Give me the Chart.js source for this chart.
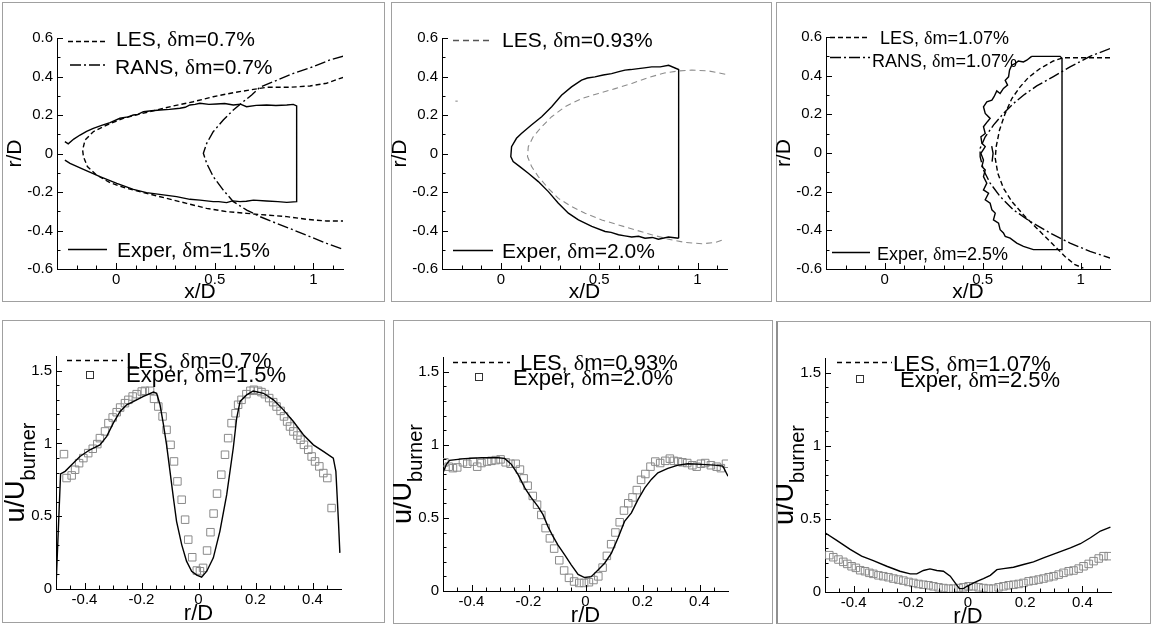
<!DOCTYPE html>
<html><head><meta charset="utf-8">
<script src="https://cdn.jsdelivr.net/npm/chart.js@4.4.1/dist/chart.umd.min.js"></script>
<style>
html,body{margin:0;padding:0;background:#fff;width:1153px;height:628px;overflow:hidden;position:relative}
.frame{position:absolute;box-sizing:border-box;border:1px solid #a0a0a0;}
canvas{position:absolute;}
</style></head><body>
<script>
// ---------- tick values / labels ----------
const topXMajor = [0, 0.5, 1];
const topXLabels = ['0', '0.5', '1'];
const topXMinor = [-0.2, -0.1, 0.1, 0.2, 0.3, 0.4, 0.6, 0.7, 0.8, 0.9, 1.1];
const topYMajor = [-0.6, -0.4, -0.2, 0, 0.2, 0.4, 0.6];
const topYLabels = ['-0.6', '-0.4', '-0.2', '0', '0.2', '0.4', '0.6'];
const topYMinor = [-0.5, -0.3, -0.1, 0.1, 0.3, 0.5];
const botXMajor = [-0.4, -0.2, 0, 0.2, 0.4];
const botXLabels = ['-0.4', '-0.2', '0', '0.2', '0.4'];
const botXMinor = [-0.45, -0.35, -0.3, -0.25, -0.15, -0.1, -0.05, 0.05, 0.1, 0.15, 0.25, 0.3, 0.35, 0.45];
const botYMajor = [0, 0.5, 1, 1.5];
const botYLabels = ['0', '0.5', '1', '1.5'];
const botYMinor = [0.1, 0.2, 0.3, 0.4, 0.6, 0.7, 0.8, 0.9, 1.1, 1.2, 1.3, 1.4];

// ---------- legend labels ----------
const p1Labels = ['LES, δm=0.7%', 'RANS, δm=0.7%', 'Exper, δm=1.5%'];
const p2Labels = ['LES, δm=0.93%', 'Exper, δm=2.0%'];
const p3Labels = ['LES, δm=1.07%', 'RANS, δm=1.07%', 'Exper, δm=2.5%'];
const p4Labels = ['LES, δm=0.7%', 'Exper, δm=1.5%'];
const p5Labels = ['LES, δm=0.93%', 'Exper, δm=2.0%'];
const p6Labels = ['LES, δm=1.07%', 'Exper, δm=2.5%'];

// ---------- panel 1 (x/D, r/D) ----------
const p1ExpX = [-0.26,-0.243,-0.215,-0.183,-0.15,-0.116,-0.07,-0.031,0.019,0.06,0.087,0.11,0.138,0.18,0.222,0.27,0.323,0.35,0.374,0.4,0.425,0.47,0.509,0.55,0.594,0.63,0.661,0.71,0.763,0.81,0.865,0.898,0.915,0.915,0.865,0.82,0.763,0.696,0.66,0.628,0.59,0.56,0.52,0.492,0.425,0.374,0.306,0.239,0.154,0.087,0.003,-0.082,-0.166,-0.234,-0.26];
const p1ExpY = [0.062,0.05,0.075,0.096,0.115,0.131,0.147,0.16,0.183,0.19,0.2,0.203,0.217,0.222,0.226,0.229,0.235,0.24,0.252,0.255,0.261,0.255,0.257,0.26,0.252,0.256,0.243,0.25,0.252,0.249,0.252,0.255,0.247,-0.25,-0.254,-0.25,-0.247,-0.242,-0.248,-0.25,-0.246,-0.255,-0.25,-0.25,-0.242,-0.238,-0.224,-0.215,-0.203,-0.186,-0.155,-0.12,-0.082,-0.051,-0.034];
const p1LesX = [1.152,1.067,0.983,0.881,0.763,0.696,0.594,0.492,0.391,0.289,0.205,0.121,0.036,-0.048,-0.116,-0.158,-0.17,-0.166,-0.146,-0.099,-0.031,0.053,0.154,0.256,0.357,0.458,0.56,0.662,0.763,0.865,0.966,1.067,1.152];
const p1LesY = [0.396,0.365,0.351,0.344,0.344,0.333,0.316,0.295,0.269,0.247,0.226,0.205,0.183,0.148,0.113,0.07,0.018,-0.016,-0.068,-0.112,-0.152,-0.181,-0.207,-0.233,-0.259,-0.285,-0.302,-0.311,-0.32,-0.328,-0.342,-0.351,-0.351];
const p1RansX = [1.152,1.084,0.999,0.898,0.797,0.729,0.687,0.644,0.594,0.543,0.492,0.459,0.442,0.459,0.492,0.543,0.594,0.662,0.729,0.813,0.898,0.983,1.067,1.152];
const p1RansY = [0.506,0.486,0.451,0.416,0.373,0.344,0.304,0.269,0.226,0.174,0.113,0.053,0.001,-0.051,-0.12,-0.19,-0.25,-0.294,-0.328,-0.363,-0.397,-0.432,-0.467,-0.498];

// ---------- panel 2 ----------
const p2ExpX = [0.904,0.904,0.853,0.81,0.767,0.73,0.699,0.66,0.631,0.6,0.563,0.52,0.478,0.44,0.41,0.359,0.308,0.258,0.207,0.155,0.104,0.079,0.054,0.05,0.062,0.096,0.139,0.19,0.241,0.292,0.343,0.394,0.462,0.53,0.56,0.598,0.63,0.665,0.7,0.733,0.77,0.801,0.852,0.904];
const p2ExpY = [-0.44,0.436,0.458,0.45,0.45,0.445,0.441,0.436,0.433,0.425,0.415,0.408,0.398,0.392,0.381,0.346,0.303,0.243,0.191,0.148,0.104,0.079,0.035,-0.016,-0.042,-0.068,-0.103,-0.146,-0.198,-0.258,-0.31,-0.345,-0.379,-0.405,-0.41,-0.422,-0.428,-0.434,-0.43,-0.44,-0.436,-0.445,-0.434,-0.44];
const p2LesX = [1.141,1.056,0.971,0.904,0.836,0.751,0.666,0.581,0.496,0.411,0.326,0.258,0.207,0.164,0.139,0.135,0.156,0.19,0.241,0.292,0.36,0.428,0.513,0.598,0.683,0.767,0.852,0.937,1.022,1.09,1.141];
const p2LesY = [0.412,0.429,0.433,0.429,0.419,0.395,0.364,0.337,0.312,0.286,0.243,0.191,0.139,0.087,0.035,-0.016,-0.068,-0.12,-0.181,-0.233,-0.276,-0.31,-0.345,-0.371,-0.397,-0.422,-0.445,-0.462,-0.469,-0.462,-0.445];
const p2MarkX = [-0.232, -0.22];
const p2MarkY = [0.272, 0.272];

// ---------- panel 3 ----------
const p3ExpX = [0.75,0.725,0.708,0.682,0.665,0.648,0.637,0.632,0.615,0.627,0.606,0.589,0.572,0.558,0.547,0.521,0.504,0.513,0.538,0.524,0.504,0.513,0.491,0.496,0.513,0.491,0.504,0.496,0.513,0.504,0.521,0.504,0.53,0.513,0.538,0.547,0.564,0.555,0.581,0.589,0.606,0.615,0.64,0.674,0.708,0.759,0.905,0.905,0.895,0.75];
const p3ExpY = [0.5,0.48,0.471,0.476,0.462,0.454,0.428,0.394,0.376,0.351,0.334,0.308,0.321,0.291,0.273,0.265,0.239,0.205,0.179,0.162,0.136,0.101,0.084,0.05,0.033,-0.002,-0.036,-0.07,-0.088,-0.122,-0.156,-0.191,-0.208,-0.242,-0.26,-0.294,-0.311,-0.346,-0.363,-0.397,-0.414,-0.431,-0.44,-0.466,-0.483,-0.5,-0.5,0.49,0.5,0.5];
const p3InnerX = [0.546, 0.553, 0.548];
const p3InnerY = [0.035, -0.002, -0.045];
const p3LesX = [1.15,1.048,0.912,0.861,0.793,0.733,0.691,0.649,0.615,0.586,0.569,0.564,0.577,0.606,0.649,0.708,0.776,0.852,0.92,0.971,1.014];
const p3LesY = [0.493,0.493,0.493,0.476,0.437,0.39,0.342,0.282,0.205,0.119,0.033,-0.027,-0.105,-0.182,-0.251,-0.32,-0.389,-0.466,-0.535,-0.578,-0.595];
const p3RansX = [1.15,1.048,0.946,0.861,0.776,0.708,0.657,0.606,0.555,0.513,0.487,0.487,0.504,0.538,0.589,0.657,0.742,0.844,0.946,1.048,1.15];
const p3RansY = [0.54,0.5,0.445,0.395,0.347,0.299,0.256,0.205,0.144,0.084,0.024,-0.019,-0.088,-0.156,-0.225,-0.294,-0.354,-0.414,-0.466,-0.509,-0.543];

// ---------- panel 4 (r/D, u/U) ----------
const p4LesR = [-0.5,-0.484,-0.468,-0.445,-0.416,-0.381,-0.346,-0.322,-0.299,-0.275,-0.252,-0.229,-0.193,-0.158,-0.147,-0.135,-0.123,-0.112,-0.1,-0.088,-0.077,-0.059,-0.042,-0.024,-0.006,0.011,0.029,0.052,0.075,0.099,0.122,0.134,0.146,0.169,0.192,0.228,0.263,0.298,0.333,0.368,0.403,0.438,0.473,0.482,0.491,0.496];
const p4LesU = [0.01,0.79,0.808,0.853,0.91,0.956,0.99,1.048,1.139,1.219,1.265,1.287,1.322,1.352,1.344,1.265,1.128,0.99,0.808,0.625,0.465,0.305,0.191,0.122,0.095,0.081,0.122,0.214,0.396,0.648,0.968,1.174,1.288,1.333,1.36,1.344,1.299,1.23,1.15,1.059,0.99,0.945,0.899,0.808,0.465,0.248];
const p4ExpR = [-0.472,-0.463,-0.445,-0.433,-0.419,-0.404,-0.387,-0.371,-0.355,-0.346,-0.328,-0.316,-0.301,-0.287,-0.275,-0.258,-0.246,-0.231,-0.217,-0.199,-0.188,-0.17,-0.156,-0.141,-0.126,-0.112,-0.098,-0.086,-0.074,-0.059,-0.047,-0.036,-0.022,-0.006,0.005,0.016,0.03,0.042,0.053,0.065,0.08,0.093,0.104,0.116,0.13,0.139,0.151,0.168,0.182,0.194,0.209,0.221,0.233,0.248,0.262,0.274,0.288,0.3,0.311,0.321,0.333,0.347,0.358,0.37,0.385,0.397,0.409,0.424,0.438,0.452,0.467];
const p4ExpU = [0.926,0.762,0.78,0.819,0.864,0.899,0.933,0.963,0.995,1.036,1.082,1.139,1.178,1.214,1.246,1.276,1.299,1.322,1.338,1.356,1.361,1.361,1.306,1.253,1.185,1.093,0.99,0.876,0.739,0.613,0.476,0.339,0.218,0.127,0.122,0.145,0.264,0.39,0.518,0.655,0.785,0.922,1.036,1.139,1.207,1.265,1.299,1.338,1.361,1.368,1.361,1.352,1.338,1.311,1.283,1.253,1.223,1.185,1.15,1.116,1.082,1.054,1.025,0.99,0.956,0.91,0.876,0.842,0.796,0.762,0.556];

// ---------- panel 5 ----------
const p5LesR = [-0.5,-0.488,-0.477,-0.424,-0.365,-0.307,-0.284,-0.26,-0.237,-0.213,-0.19,-0.167,-0.149,-0.132,-0.114,-0.097,-0.073,-0.05,-0.026,-0.003,0.02,0.044,0.067,0.091,0.114,0.137,0.161,0.184,0.208,0.231,0.254,0.289,0.325,0.36,0.406,0.453,0.482,0.5];
const p5LesU = [0.808,0.866,0.893,0.905,0.911,0.911,0.907,0.866,0.797,0.705,0.637,0.579,0.522,0.442,0.373,0.316,0.247,0.179,0.114,0.092,0.098,0.144,0.19,0.259,0.362,0.476,0.534,0.625,0.705,0.763,0.808,0.838,0.861,0.87,0.866,0.861,0.854,0.785];
const p5ExpR = [-0.495,-0.48,-0.465,-0.45,-0.43,-0.415,-0.395,-0.38,-0.365,-0.345,-0.33,-0.315,-0.298,-0.28,-0.263,-0.245,-0.23,-0.217,-0.203,-0.185,-0.17,-0.155,-0.14,-0.125,-0.11,-0.092,-0.075,-0.058,-0.04,-0.022,-0.005,0.012,0.028,0.045,0.06,0.075,0.09,0.105,0.12,0.135,0.15,0.165,0.18,0.195,0.21,0.228,0.245,0.262,0.28,0.296,0.31,0.325,0.34,0.357,0.375,0.39,0.405,0.42,0.44,0.46,0.475,0.493];
const p5ExpU = [0.88,0.85,0.84,0.845,0.88,0.87,0.885,0.85,0.875,0.885,0.89,0.895,0.9,0.88,0.87,0.87,0.83,0.77,0.72,0.65,0.59,0.52,0.43,0.36,0.29,0.21,0.14,0.09,0.065,0.055,0.055,0.06,0.075,0.1,0.16,0.24,0.32,0.4,0.47,0.55,0.6,0.64,0.69,0.76,0.8,0.85,0.885,0.875,0.89,0.905,0.89,0.885,0.88,0.875,0.86,0.85,0.87,0.875,0.86,0.85,0.84,0.87];

// ---------- panel 6 ----------
const p6LesR = [-0.5,-0.459,-0.412,-0.372,-0.331,-0.284,-0.238,-0.202,-0.179,-0.156,-0.133,-0.109,-0.086,-0.062,-0.045,-0.03,-0.016,-0.004,0.013,0.031,0.054,0.078,0.101,0.124,0.159,0.194,0.229,0.264,0.311,0.358,0.393,0.428,0.463,0.498];
const p6LesU = [0.405,0.353,0.291,0.245,0.215,0.176,0.142,0.124,0.124,0.147,0.158,0.147,0.142,0.108,0.062,0.023,0.023,0.039,0.055,0.073,0.092,0.114,0.153,0.16,0.169,0.188,0.206,0.234,0.268,0.302,0.33,0.371,0.417,0.444];
const p6ExpR = [-0.485,-0.471,-0.453,-0.436,-0.422,-0.407,-0.392,-0.377,-0.36,-0.345,-0.331,-0.313,-0.296,-0.278,-0.261,-0.243,-0.226,-0.208,-0.191,-0.173,-0.156,-0.138,-0.121,-0.103,-0.086,-0.068,-0.051,-0.033,-0.016,0.002,0.019,0.037,0.054,0.072,0.089,0.107,0.124,0.142,0.159,0.177,0.194,0.212,0.229,0.247,0.264,0.282,0.299,0.317,0.334,0.352,0.369,0.387,0.404,0.422,0.439,0.457,0.474,0.492];
const p6ExpU = [0.252,0.238,0.222,0.206,0.192,0.176,0.165,0.149,0.142,0.131,0.124,0.114,0.108,0.101,0.092,0.085,0.078,0.069,0.062,0.055,0.05,0.046,0.039,0.032,0.027,0.023,0.023,0.027,0.032,0.039,0.039,0.032,0.027,0.023,0.023,0.032,0.039,0.046,0.05,0.055,0.062,0.073,0.078,0.085,0.092,0.101,0.108,0.119,0.131,0.142,0.147,0.16,0.176,0.192,0.211,0.229,0.245,0.245];

// ---------- helpers ----------
const SANS = '"Liberation Sans", Arial, sans-serif';
const SERIF = '"Liberation Serif", "Times New Roman", serif';
const pts = (xs, ys) => xs.map((x, i) => ({x: x, y: ys[i]}));
const DASH_LES = [5, 3], DASH_RANS = [11, 3, 2, 3], DASH_LES2 = [6, 4];

function lineDs(xs, ys, dash, color, w) {
  return {data: pts(xs, ys), showLine: true, pointRadius: 0, borderColor: color || '#000',
          borderWidth: w || 1.4, borderDash: dash || [], tension: 0, fill: false};
}
function sqDs(xs, ys) {
  return {data: pts(xs, ys), showLine: false, pointStyle: 'rect', pointRadius: 5.3,
          borderColor: '#8a8a8a', backgroundColor: 'rgba(0,0,0,0)', borderWidth: 1};
}
function drawRich(c, text, x, y, size) {
  const parts = text.split('δ');
  let cx = x;
  c.textAlign = 'left'; c.textBaseline = 'alphabetic';
  c.font = size + 'px ' + SANS;
  c.fillText(parts[0], cx, y); cx += c.measureText(parts[0]).width;
  if (parts.length > 1) {
    c.font = size + 'px ' + SERIF;
    c.fillText('δ', cx, y); cx += c.measureText('δ').width;
    c.font = size + 'px ' + SANS;
    c.fillText(parts[1], cx, y);
  }
}

const decor = {
  id: 'decor',
  afterDraw(chart) {
    const P = chart.canvas._panel;
    const c = chart.ctx, xs = chart.scales.x, ys = chart.scales.y, a = chart.chartArea;
    const fl = P.frame.l, ft = P.frame.t;
    c.save();
    c.strokeStyle = '#000'; c.lineWidth = 1; c.setLineDash([]);
    c.beginPath();
    const tx = (v, len) => { const p = Math.round(xs.getPixelForValue(v)) + 0.5; c.moveTo(p, a.bottom); c.lineTo(p, a.bottom - len); };
    const ty = (v, len) => { const p = Math.round(ys.getPixelForValue(v)) + 0.5; c.moveTo(a.left, p); c.lineTo(a.left + len, p); };
    P.xMajor.forEach(v => tx(v, 6)); P.xMinor.forEach(v => tx(v, 3.5));
    P.yMajor.forEach(v => ty(v, 6)); P.yMinor.forEach(v => ty(v, 3.5));
    c.stroke();
    c.fillStyle = '#000';
    // x title
    c.font = P.xTitle.size + 'px ' + SANS; c.textAlign = 'center'; c.textBaseline = 'alphabetic';
    c.fillText(P.xTitle.text, (a.left + a.right) / 2, a.bottom + P.xTitle.off);
    // y title
    c.save();
    c.translate(a.left - P.yTitle.off, (a.top + a.bottom) / 2);
    c.rotate(-Math.PI / 2);
    c.font = P.yTitle.size + 'px ' + SANS;
    const w1 = c.measureText(P.yTitle.text).width;
    let w2 = 0;
    if (P.yTitle.sub) { c.font = P.yTitle.subSize + 'px ' + SANS; w2 = c.measureText(P.yTitle.sub).width; }
    const start = -(w1 + w2) / 2;
    c.textAlign = 'left';
    c.font = P.yTitle.size + 'px ' + SANS;
    c.fillText(P.yTitle.text, start, 0);
    if (P.yTitle.sub) { c.font = P.yTitle.subSize + 'px ' + SANS; c.fillText(P.yTitle.sub, start + w1, P.yTitle.subDrop); }
    c.restore();
    // legend
    P.legend.forEach((it, i) => {
      c.save();
      if (it.kind === 'line') {
        c.strokeStyle = it.color || '#000'; c.lineWidth = 1.3; c.setLineDash(it.dash || []);
        c.beginPath(); c.moveTo(it.x1 - fl, it.y - ft); c.lineTo(it.x2 - fl, it.y - ft); c.stroke();
      } else {
        c.strokeStyle = '#333'; c.lineWidth = 1; c.setLineDash([]);
        c.strokeRect(Math.round(it.x - fl) - 3.5, Math.round(it.y - ft) - 3.5, 7, 7);
      }
      c.restore();
      c.fillStyle = '#000';
      drawRich(c, P.labels[i], it.tx - fl, it.ty - ft, P.legendSize);
    });
    c.restore();
  }
};

function makePanel(P) {
  const W = P.frame.r - P.frame.l, H = P.frame.b - P.frame.t;
  const fr = document.createElement('div');
  fr.className = 'frame';
  fr.style.left = P.frame.l + 'px'; fr.style.top = P.frame.t + 'px';
  fr.style.width = W + 'px'; fr.style.height = H + 'px';
  if (P.frameStyle) Object.assign(fr.style, P.frameStyle);
  document.body.appendChild(fr);
  const cv = document.createElement('canvas');
  cv.width = W; cv.height = H;
  cv.style.left = P.frame.l + 'px'; cv.style.top = P.frame.t + 'px';
  cv.style.width = W + 'px'; cv.style.height = H + 'px';
  cv._panel = P;
  document.body.appendChild(cv);
  const yW = P.plot.l - P.frame.l, xH = P.frame.b - P.plot.b;
  new Chart(cv.getContext('2d'), {
    type: 'scatter',
    data: {datasets: P.datasets},
    plugins: [decor],
    options: {
      responsive: false, animation: false, events: [], devicePixelRatio: 1,
      layout: {padding: {left: 0, top: P.plot.t - P.frame.t, right: P.frame.r - P.plot.r, bottom: 0}},
      plugins: {legend: {display: false}, tooltip: {enabled: false}},
      scales: {
        x: {
          type: 'linear', position: 'bottom', min: P.xMin, max: P.xMax,
          afterBuildTicks: s => { s.ticks = P.xMajor.map(v => ({value: v})); },
          afterFit: s => { s.height = xH; s.paddingLeft = 0; s.paddingRight = 0; },
          ticks: {autoSkip: false, maxRotation: 0, padding: 2, color: '#000',
                  font: {family: SANS, size: 15}, callback: (v, i) => P.xLabels[i]},
          grid: {display: false, drawTicks: false},
          border: {display: true, color: '#000', width: 1}
        },
        y: {
          type: 'linear', position: 'left', min: P.yMin, max: P.yMax,
          afterBuildTicks: s => { s.ticks = P.yMajor.map(v => ({value: v})); },
          afterFit: s => { s.width = yW; s.paddingTop = 0; s.paddingBottom = 0; },
          ticks: {autoSkip: false, padding: 4, color: '#000',
                  font: {family: SANS, size: 15}, callback: (v, i) => P.yLabels[i]},
          grid: {display: false, drawTicks: false},
          border: {display: true, color: '#000', width: 1}
        }
      }
    }
  });
}

const topCommon = {xMin: -0.3, xMax: 1.15, yMin: -0.6, yMax: 0.6,
  xMajor: topXMajor, xLabels: topXLabels, xMinor: topXMinor,
  yMajor: topYMajor, yLabels: topYLabels, yMinor: topYMinor,
  xTitle: {text: 'x/D', size: 21, off: 29}, yTitle: {text: 'r/D', size: 21, off: 36}};
const botCommon = {xMin: -0.5, xMax: 0.5, yMin: 0, yMax: 1.6,
  xMajor: botXMajor, xLabels: botXLabels, xMinor: botXMinor,
  yMajor: botYMajor, yLabels: botYLabels, yMinor: botYMinor,
  xTitle: {text: 'r/D', size: 22, off: 31},
  yTitle: {text: 'u/U', size: 27, off: 32, sub: 'burner', subSize: 20, subDrop: 11}};

makePanel(Object.assign({}, topCommon, {
  frame: {l: 2, t: 2, r: 385, b: 302}, plot: {l: 57, t: 38, r: 343, b: 269},
  labels: p1Labels, legendSize: 21,
  legend: [
    {kind: 'line', dash: DASH_LES, x1: 68, x2: 107, y: 41.5, tx: 116, ty: 45.5},
    {kind: 'line', dash: DASH_RANS, x1: 70, x2: 107, y: 65, tx: 115, ty: 74},
    {kind: 'line', dash: [], x1: 68, x2: 107, y: 249.5, tx: 117, ty: 256.5}],
  datasets: [lineDs(p1ExpX, p1ExpY), lineDs(p1LesX, p1LesY, DASH_LES), lineDs(p1RansX, p1RansY, DASH_RANS)]
}));
makePanel(Object.assign({}, topCommon, {
  frame: {l: 391, t: 2, r: 772, b: 302}, plot: {l: 442, t: 38, r: 727, b: 269},
  labels: p2Labels, legendSize: 21,
  legend: [
    {kind: 'line', dash: DASH_LES2, color: '#555', x1: 453, x2: 493, y: 40.5, tx: 502, ty: 46.5},
    {kind: 'line', dash: [], x1: 453, x2: 493, y: 250.5, tx: 502, ty: 258}],
  datasets: [lineDs(p2ExpX, p2ExpY), lineDs(p2LesX, p2LesY, DASH_LES2, '#8c8c8c', 1.1), lineDs(p2MarkX, p2MarkY, [], '#8c8c8c', 1.1)]
}));
makePanel(Object.assign({}, topCommon, {
  frame: {l: 776, t: 2, r: 1151, b: 302}, plot: {l: 826, t: 37, r: 1110, b: 269},
  labels: p3Labels, legendSize: 18,
  legend: [
    {kind: 'line', dash: DASH_LES, x1: 830, x2: 870, y: 37.5, tx: 880, ty: 43.5},
    {kind: 'line', dash: DASH_RANS, x1: 830, x2: 870, y: 57.5, tx: 872, ty: 66.5},
    {kind: 'line', dash: [], x1: 832, x2: 870, y: 252.5, tx: 877, ty: 260}],
  datasets: [lineDs(p3ExpX, p3ExpY), lineDs(p3InnerX, p3InnerY), lineDs(p3LesX, p3LesY, DASH_LES), lineDs(p3RansX, p3RansY, DASH_RANS)]
}));
makePanel(Object.assign({}, botCommon, {
  frame: {l: 2, t: 320, r: 385, b: 623}, plot: {l: 56, t: 356, r: 341, b: 589},
  labels: p4Labels, legendSize: 22,
  legend: [
    {kind: 'line', dash: [5, 4], x1: 67, x2: 123, y: 360.5, tx: 126, ty: 367.5},
    {kind: 'square', x: 90, y: 375, tx: 126, ty: 382}],
  datasets: [lineDs(p4LesR, p4LesU), sqDs(p4ExpR, p4ExpU)]
}));
makePanel(Object.assign({}, botCommon, {
  frame: {l: 393, t: 320, r: 773, b: 624}, plot: {l: 443, t: 357, r: 728, b: 591},
  labels: p5Labels, legendSize: 22,
  legend: [
    {kind: 'line', dash: [5, 4], x1: 453, x2: 510, y: 362.5, tx: 520, ty: 370},
    {kind: 'square', x: 479, y: 377, tx: 513, ty: 385}],
  datasets: [lineDs(p5LesR, p5LesU), sqDs(p5ExpR, p5ExpU)]
}));
makePanel(Object.assign({}, botCommon, {
  frame: {l: 776, t: 321, r: 1151, b: 624}, plot: {l: 825, t: 358, r: 1111, b: 592},
  frameStyle: {borderLeft: '2px solid #909090'},
  labels: p6Labels, legendSize: 22,
  legend: [
    {kind: 'line', dash: [5, 4], x1: 837, x2: 892, y: 362.5, tx: 893, ty: 370.5},
    {kind: 'square', x: 860, y: 379, tx: 900, ty: 386.5}],
  datasets: [lineDs(p6LesR, p6LesU), sqDs(p6ExpR, p6ExpU)]
}));
</script>
</body></html>
